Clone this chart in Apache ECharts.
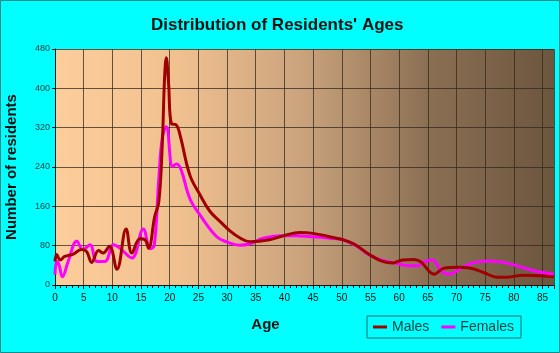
<!DOCTYPE html>
<html>
<head>
<meta charset="utf-8">
<script src="https://cdn.jsdelivr.net/npm/echarts/dist/echarts.min.js"></script>
<style>
	html, body { margin: 0; padding: 0; background: #00ffff; }
	#chart { width: 560px; height: 353px; }
</style>
</head>
<body>
<div id="chart"></div>
<script>
// ages (points are not evenly spaced)
const maleAges = [0, 0.3, 0.9, 1.7, 3.2, 4.6, 5.5, 6.4, 7.6, 8.4, 9.5, 10.8, 12.4, 13.4, 14.8, 15.7, 16.3, 17.4, 18.1, 18.7, 19.1, 19.4, 19.8, 20.3, 21.1, 21.8, 23.5, 25.3, 27, 28.8, 30.5, 32.2, 34, 37.4, 39.8, 42.7, 45, 47.9, 50.2, 52.2, 54.8, 57.1, 58.9, 60.6, 62.6, 63.8, 66.1, 67.8, 70.2, 72.5, 74.8, 77.1, 78.8, 81.7, 84.6, 87]
const maleValues = [48, 62, 51, 58, 63, 72, 68, 46, 70, 65, 79, 32, 114, 65, 94, 92, 75, 140, 169, 285, 420, 462, 410, 328, 326, 305, 224, 183, 150, 129, 110, 96, 88, 92, 100, 107, 105, 98, 92, 83, 62, 48, 45, 51, 52, 47, 22, 34, 36, 34, 25, 16, 16, 20, 19, 17]

const femaleAges = [0, 0.3, 0.7, 1.3, 2.3, 3.8, 4.9, 6.1, 7.3, 8.7, 10.2, 11.3, 13.4, 15.4, 16.6, 17.3, 18.1, 18.7, 19.4, 20.5, 21.2, 22, 23.5, 25.3, 28.2, 29.9, 32.2, 34, 36.3, 39.2, 42.1, 45, 47.9, 50.2, 52.5, 54.8, 57.1, 59.5, 61.8, 63.2, 64.3, 65.8, 67.3, 68.7, 70.5, 72.5, 75.4, 77.7, 80.6, 83.5, 87]
const femaleValues = [21, 48, 41, 17, 48, 89, 72, 82, 48, 48, 82, 75, 55, 114, 74, 80, 217, 299, 322, 241, 246, 234, 176, 142, 98, 88, 81, 84, 95, 100, 100, 98, 95, 92, 80, 61, 50, 44, 39, 39, 47, 51, 29, 22, 32, 44, 49, 47, 39, 29, 22]

const seriesNames = ['Males', 'Females']

const chart = echarts.init(document.getElementById('chart'))

const pairs = (xs, ys) => xs.map((x, i) => [x, ys[i]])

const option = {
	animation: false,
	backgroundColor: '#00ffff',
	title: {
		text: 'Distribution of Residents\' Ages',
		left: 146,
		top: 12,
		textStyle: {
			fontFamily: 'Liberation Sans',
			fontWeight: 'bold',
			fontSize: 17,
			color: '#111'
		}
	},
	legend: {
		data: seriesNames,
		left: 367,
		top: 316,
		orient: 'horizontal',
		borderColor: '#1a6f6f',
		borderWidth: 1,
		padding: [4, 7, 4, 6],
		itemGap: 12,
		itemWidth: 14,
		itemHeight: 3,
		icon: 'rect',
		textStyle: {
			fontFamily: 'Liberation Sans',
			fontSize: 14,
			color: '#0d4545'
		}
	},
	grid: {
		left: 55,
		right: 6,
		top: 49,
		bottom: 68,
		outerBoundsMode: 'none',
		containLabel: false,
		show: true,
		borderWidth: 0,
		backgroundColor: new echarts.graphic.LinearGradient(0, 0, 1, 0, [
			{ offset: 0, color: '#fdce9c' },
			{ offset: 0.25, color: '#f0c08f' },
			{ offset: 0.5, color: '#c9a27c' },
			{ offset: 0.75, color: '#8b6f53' },
			{ offset: 1, color: '#6c563e' }
		])
	},
	xAxis: {
		type: 'value',
		min: 0,
		max: 87,
		interval: 5,
		name: 'Age',
		nameLocation: 'middle',
		nameGap: 32,
		nameTextStyle: {
			fontFamily: 'Liberation Sans',
			fontWeight: 'bold',
			fontSize: 15,
			color: '#111',
			padding: [0, 78, 0, 0]
		},
		axisLine: { lineStyle: { color: '#111', width: 1 } },
		axisTick: { length: 4, lineStyle: { color: '#111' } },
		minorTick: { show: true, splitNumber: 5, length: 3, lineStyle: { color: '#111' } },
		axisLabel: {
			showMaxLabel: false,
			margin: 8,
			fontFamily: 'Liberation Sans',
			fontSize: 10,
			color: '#111'
		},
		splitLine: { show: true, lineStyle: { color: 'rgba(50,40,30,0.75)', width: 1 } }
	},
	yAxis: {
		type: 'value',
		min: 0,
		max: 480,
		interval: 80,
		name: 'Number of residents',
		nameLocation: 'middle',
		nameGap: 36,
		nameTextStyle: {
			fontFamily: 'Liberation Sans',
			fontWeight: 'bold',
			fontSize: 15,
			color: '#111'
		},
		axisLine: { show: true, lineStyle: { color: '#111', width: 1 } },
		axisTick: { show: true, length: 3, lineStyle: { color: '#111' } },
		axisLabel: {
			margin: 5,
			fontFamily: 'Liberation Sans',
			fontSize: 9,
			color: '#1a3a3a'
		},
		splitLine: { show: true, lineStyle: { color: 'rgba(50,40,30,0.75)', width: 1 } }
	},
	series: [
		{
			name: seriesNames[0],
			type: 'line',
			data: pairs(maleAges, maleValues),
			smooth: 0.4,
			symbol: 'none',
			z: 3,
			lineStyle: { color: '#a00000', width: 3 },
			itemStyle: { color: '#a00000' }
		},
		{
			name: seriesNames[1],
			type: 'line',
			data: pairs(femaleAges, femaleValues),
			smooth: 0.4,
			symbol: 'none',
			z: 2,
			lineStyle: { color: '#ff00ff', width: 3 },
			itemStyle: { color: '#ff00ff' }
		}
	],
	graphic: [
		{
			type: 'rect',
			shape: { x: 0.5, y: 0.5, width: 559, height: 352 },
			style: { fill: null, stroke: '#1a8a8a', lineWidth: 1 },
			silent: true
		}
	]
}

chart.setOption(option)
</script>
</body>
</html>
